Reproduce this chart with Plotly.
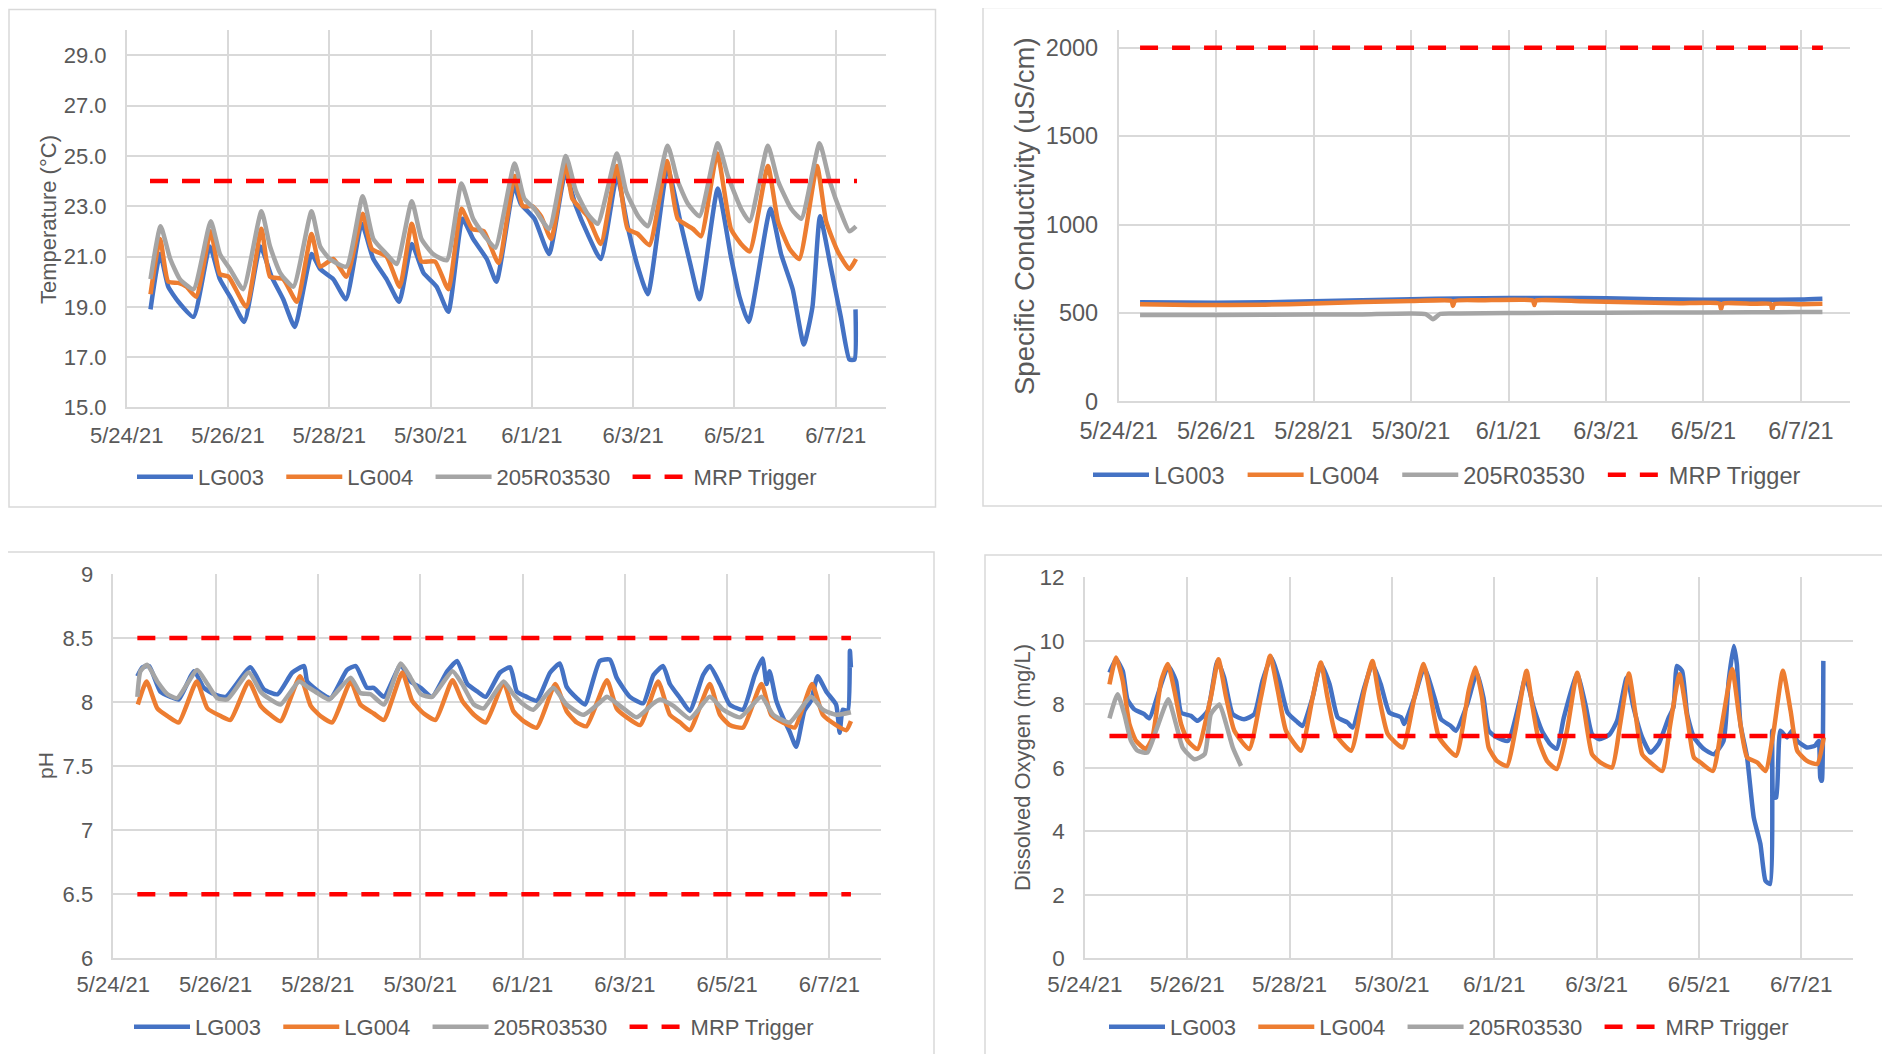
import pandas as pd
import plotly.graph_objects as go

# ---------------- data (x = days after 5/24/21 00:00) ----------------
START = pd.Timestamp("2021-05-24")
SERIES = ["LG003", "LG004", "205R03530"]
COLORS = {"LG003": "#4472C4", "LG004": "#ED7D31", "205R03530": "#A5A5A5"}
TRIGGER_COLOR = "#FF0000"
TICK_LABEL_FMT = "%-m/%-d/%y"

# Temperature (deg C)
temp_lg003_day = [0.47, 0.66, 0.82, 1.02, 1.32, 1.64, 1.84, 2.07, 2.32, 2.64,
                  2.86, 3.09, 3.32, 3.65, 3.82, 4.08, 4.33, 4.64, 4.87, 5.13,
                  5.38, 5.63, 5.86, 6.12, 6.35, 6.63, 6.84, 7.11, 7.30, 7.65,
                  7.78, 8.05, 8.34, 8.66, 8.87, 9.10, 9.36, 9.68, 9.89, 10.09,
                  10.29, 10.68, 10.94, 11.14, 11.31, 11.67, 11.93, 12.10, 12.28, 12.71,
                  12.92, 13.15, 13.37, 13.54, 13.69, 13.90, 14.10, 14.27, 14.37, 14.39]
temp_lg003 = [18.9, 21.1, 19.8, 19.2, 18.6, 21.4, 20.1, 19.3, 18.4, 21.4,
              20.2, 19.3, 18.2, 21.1, 20.5, 20.1, 19.3, 22.3, 20.9, 20.1,
              19.2, 21.5, 20.35, 19.8, 18.8, 22.5, 21.7, 20.9, 20.0, 23.8,
              23.1, 22.5, 21.1, 24.3, 23.0, 21.9, 20.9, 24.2, 22.2, 20.6,
              19.5, 24.5, 22.3, 20.6, 19.3, 23.7, 21.0, 19.4, 18.4, 22.9,
              21.1, 19.7, 17.5, 19.0, 22.6, 20.6, 18.6, 16.9, 16.9, 18.9]
temp_lg004_day = [0.47, 0.66, 0.82, 1.02, 1.18, 1.37, 1.66, 1.84, 2.01, 2.36,
                  2.66, 2.83, 3.09, 3.36, 3.65, 3.82, 4.08, 4.34, 4.66, 4.84,
                  5.13, 5.39, 5.63, 5.82, 6.09, 6.35, 6.61, 6.82, 7.05, 7.34,
                  7.66, 7.82, 8.01, 8.18, 8.38, 8.67, 8.80, 9.10, 9.36, 9.68,
                  9.89, 10.09, 10.32, 10.67, 10.88, 11.18, 11.34, 11.66, 11.93, 12.13,
                  12.30, 12.66, 12.86, 13.09, 13.28, 13.63, 13.81, 14.04, 14.27, 14.40]
temp_lg004 = [19.5, 21.7, 20.0, 19.95, 19.8, 19.4, 22.0, 20.3, 20.2, 19.0,
              22.1, 20.2, 20.1, 19.2, 21.9, 20.6, 20.9, 20.2, 22.7, 21.3,
              21.0, 19.8, 22.3, 20.8, 20.8, 19.7, 22.9, 22.1, 22.0, 20.75,
              24.2, 23.0, 23.0, 22.6, 21.7, 24.7, 23.3, 22.6, 21.5, 24.6,
              22.1, 21.9, 21.45, 24.8, 22.5, 22.1, 21.8, 25.1, 22.1, 21.5,
              21.2, 24.6, 22.4, 21.3, 20.9, 24.6, 22.4, 21.2, 20.5, 20.9]
temp_205_day = [0.47, 0.67, 0.86, 1.05, 1.32, 1.66, 1.84, 2.04, 2.30, 2.66,
                2.83, 3.03, 3.29, 3.65, 3.82, 4.01, 4.34, 4.66, 4.87, 5.13,
                5.33, 5.63, 5.82, 6.05, 6.32, 6.61, 6.84, 7.11, 7.28, 7.66,
                7.85, 8.05, 8.34, 8.67, 8.87, 9.10, 9.30, 9.68, 9.86, 10.10,
                10.29, 10.68, 10.88, 11.08, 11.31, 11.67, 11.87, 12.13, 12.30, 12.66,
                12.86, 13.12, 13.32, 13.68, 13.88, 14.11, 14.27, 14.40]
temp_205 = [20.1, 22.2, 20.9, 20.1, 19.7, 22.4, 21.1, 20.5, 19.7, 22.8,
            21.4, 20.35, 19.8, 22.8, 21.4, 20.9, 20.6, 23.4, 21.7, 21.1,
            20.7, 23.2, 21.7, 21.1, 20.85, 23.9, 22.5, 21.7, 21.35, 24.7,
            23.3, 22.9, 22.1, 25.0, 23.6, 22.7, 22.3, 25.1, 23.6, 22.6,
            22.2, 25.4, 24.0, 23.1, 22.6, 25.5, 24.2, 22.9, 22.4, 25.4,
            24.0, 22.9, 22.5, 25.5, 24.0, 22.7, 22.0, 22.2]
temp_trigger = [24.0]
temp_trigger_span = [0.46, 14.42]

# Specific conductivity (uS/cm)
sc_lg003_day = [0.44, 2.0, 3.0, 4.0, 5.0, 6.0, 7.0, 8.0, 9.0, 10.0, 11.0, 12.0, 13.0, 14.0, 14.44]
sc_lg003 = [560, 558, 560, 566, 572, 578, 582, 585, 585, 583, 578, 575, 575, 576, 580]
sc_lg004_day = [0.44, 1.5, 3.0, 4.0, 5.0, 6.0, 6.83, 6.86, 6.9, 7.5,
                8.5, 8.53, 8.56, 9.5, 10.5, 11.5, 12.33, 12.36, 12.4, 13.0,
                13.38, 13.41, 13.45, 14.0, 14.44]
sc_lg004 = [550, 545, 547, 553, 562, 567, 568, 540, 568, 572,
            570, 545, 570, 566, 560, 555, 553, 522, 553, 552,
            550, 520, 550, 550, 552]
sc_205_day = [0.44, 2.0, 4.0, 5.0, 6.3, 6.45, 6.6, 7.0, 8.0, 10.0, 12.0, 14.0, 14.44]
sc_205 = [488, 489, 491, 492, 494, 465, 495, 497, 500, 501, 503, 505, 505]
sc_trigger = [2000]
sc_trigger_span = [0.44, 14.45]

# pH
ph_lg003_day = [0.47, 0.57, 0.70, 0.92, 1.12, 1.28, 1.58, 1.77, 1.97, 2.20,
                2.68, 2.94, 3.21, 3.50, 3.73, 3.79, 4.05, 4.25, 4.57, 4.74,
                4.96, 5.09, 5.29, 5.62, 5.81, 6.01, 6.23, 6.53, 6.72, 6.92,
                7.12, 7.28, 7.56, 7.76, 7.89, 8.08, 8.28, 8.54, 8.73, 8.86,
                9.06, 9.22, 9.51, 9.71, 9.84, 10.10, 10.36, 10.56, 10.75, 10.88,
                11.08, 11.27, 11.53, 11.66, 11.86, 12.05, 12.31, 12.54, 12.69, 12.77,
                12.83, 12.96, 13.09, 13.22, 13.35, 13.51, 13.64, 13.77, 13.94, 14.13,
                14.20, 14.26, 14.36, 14.40, 14.42]
ph_lg003 = [8.20, 8.27, 8.28, 8.08, 8.04, 8.02, 8.24, 8.11, 8.06, 8.04,
            8.27, 8.10, 8.06, 8.23, 8.28, 8.16, 8.07, 8.03, 8.25, 8.28,
            8.11, 8.11, 8.04, 8.29, 8.16, 8.11, 8.04, 8.24, 8.32, 8.14,
            8.08, 8.04, 8.23, 8.27, 8.08, 8.04, 8.01, 8.23, 8.30, 8.12,
            8.03, 7.98, 8.32, 8.33, 8.19, 8.04, 7.99, 8.21, 8.28, 8.14,
            8.03, 7.93, 8.21, 8.28, 8.14, 7.98, 7.94, 8.21, 8.34, 8.14,
            8.24, 8.01, 7.88, 7.77, 7.65, 7.93, 8.01, 8.20, 8.08, 7.98,
            7.76, 7.94, 7.93, 8.40, 8.27]
ph_lg004_day = [0.48, 0.65, 0.86, 1.06, 1.28, 1.63, 1.84, 2.10, 2.29, 2.65,
                2.88, 3.07, 3.27, 3.65, 3.86, 4.05, 4.28, 4.64, 4.83, 5.09,
                5.29, 5.65, 5.84, 6.07, 6.30, 6.63, 6.82, 7.05, 7.28, 7.63,
                7.82, 8.02, 8.28, 8.64, 8.86, 9.06, 9.25, 9.65, 9.84, 10.04,
                10.30, 10.65, 10.88, 11.08, 11.27, 11.66, 11.86, 12.05, 12.31, 12.67,
                12.86, 13.09, 13.32, 13.66, 13.87, 14.13, 14.33, 14.42]
ph_lg004 = [7.98, 8.16, 7.95, 7.89, 7.84, 8.16, 7.95, 7.89, 7.86, 8.16,
            7.97, 7.90, 7.85, 8.20, 7.97, 7.89, 7.84, 8.16, 7.98, 7.91,
            7.86, 8.23, 8.01, 7.91, 7.86, 8.17, 8.01, 7.90, 7.84, 8.15,
            7.93, 7.85, 7.80, 8.14, 7.93, 7.84, 7.81, 8.17, 7.95, 7.88,
            7.82, 8.16, 7.90, 7.84, 7.78, 8.14, 7.90, 7.82, 7.80, 8.14,
            7.90, 7.84, 7.80, 8.14, 7.90, 7.82, 7.78, 7.85]
ph_205_day = [0.47, 0.53, 0.66, 0.86, 1.06, 1.25, 1.64, 1.84, 2.03, 2.23,
              2.65, 2.88, 3.07, 3.27, 3.63, 3.79, 3.99, 4.22, 4.64, 4.83,
              5.03, 5.29, 5.62, 5.81, 6.01, 6.23, 6.63, 6.82, 7.05, 7.24,
              7.63, 7.82, 8.02, 8.21, 8.60, 8.86, 9.19, 9.58, 9.65, 9.97,
              10.23, 10.56, 10.69, 10.95, 11.27, 11.66, 11.92, 12.25, 12.67, 12.90,
              13.22, 13.64, 13.87, 14.13, 14.42]
ph_205 = [8.04, 8.24, 8.29, 8.16, 8.06, 8.03, 8.25, 8.14, 8.03, 8.02,
          8.23, 8.08, 8.02, 7.98, 8.16, 8.12, 8.07, 8.02, 8.19, 8.07,
          8.06, 7.98, 8.30, 8.19, 8.06, 8.04, 8.24, 8.14, 7.98, 7.95,
          8.16, 8.06, 7.98, 7.94, 8.11, 7.98, 7.90, 8.02, 8.04, 7.95,
          7.88, 7.99, 8.02, 7.97, 7.87, 8.04, 7.94, 7.88, 8.04, 7.90,
          7.84, 8.04, 7.94, 7.90, 7.92]
ph_trigger = [8.5, 6.5]
ph_trigger_span = [0.47, 14.42]

# Dissolved oxygen (mg/L)
do_lg003_day = [0.48, 0.61, 0.74, 0.83, 0.96, 1.16, 1.26, 1.45, 1.63, 1.78,
                1.88, 2.07, 2.20, 2.40, 2.59, 2.72, 2.89, 3.11, 3.31, 3.47,
                3.64, 3.80, 3.96, 4.16, 4.25, 4.45, 4.61, 4.78, 4.94, 5.13,
                5.23, 5.46, 5.62, 5.78, 5.95, 6.18, 6.24, 6.44, 6.63, 6.83,
                6.96, 7.15, 7.25, 7.47, 7.66, 7.79, 7.89, 8.05, 8.27, 8.48,
                8.61, 8.77, 8.93, 9.09, 9.22, 9.36, 9.62, 9.78, 9.91, 10.05,
                10.25, 10.40, 10.59, 10.72, 10.89, 11.05, 11.21, 11.41, 11.50, 11.57,
                11.67, 11.77, 11.90, 12.09, 12.29, 12.48, 12.58, 12.68, 12.74, 12.81,
                12.94, 13.07, 13.20, 13.30, 13.39, 13.43, 13.46, 13.51, 13.59, 13.72,
                13.82, 13.92, 14.11, 14.27, 14.34, 14.37, 14.40, 14.43]
do_lg003 = [9.0, 9.42, 9.05, 8.16, 7.85, 7.69, 7.56, 8.43, 9.21, 8.74,
            7.74, 7.64, 7.48, 7.8, 9.37, 8.85, 7.69, 7.53, 7.69, 8.74,
            9.48, 8.74, 7.74, 7.43, 7.32, 8.22, 9.27, 8.64, 7.59, 7.43,
            7.27, 8.53, 9.27, 8.64, 7.74, 7.59, 7.38, 8.22, 9.16, 8.22,
            7.53, 7.32, 7.17, 8.0, 9.0, 8.2, 7.17, 6.96, 6.85, 8.0,
            8.85, 7.9, 7.17, 6.75, 6.6, 7.59, 8.95, 8.0, 7.06, 6.9,
            7.05, 7.48, 8.85, 7.9, 6.96, 6.48, 6.75, 7.59, 7.9, 9.21,
            9.05, 7.69, 6.96, 6.6, 6.43, 6.85, 8.74, 9.84, 9.27, 7.38,
            6.33, 4.44, 3.6, 2.44, 2.34, 7.17, 5.07, 5.07, 7.17, 6.96,
            7.17, 6.85, 6.64, 6.7, 6.85, 5.7, 5.59, 9.37]
do_lg004_day = [0.48, 0.61, 0.74, 0.87, 1.00, 1.19, 1.32, 1.49, 1.62, 1.75,
                1.88, 2.01, 2.20, 2.46, 2.61, 2.76, 2.92, 3.21, 3.44, 3.62,
                3.77, 3.93, 4.22, 4.45, 4.61, 4.74, 4.90, 5.20, 5.46, 5.62,
                5.75, 5.92, 6.21, 6.44, 6.62, 6.76, 6.92, 7.25, 7.50, 7.63,
                7.76, 7.89, 8.05, 8.25, 8.41, 8.63, 8.74, 8.87, 9.03, 9.22,
                9.42, 9.62, 9.75, 9.91, 10.07, 10.30, 10.46, 10.63, 10.76, 10.89,
                11.05, 11.28, 11.44, 11.62, 11.77, 11.90, 12.03, 12.27, 12.45, 12.65,
                12.78, 12.94, 13.14, 13.30, 13.46, 13.64, 13.79, 13.92, 14.11, 14.31,
                14.44]
do_lg004 = [8.63, 9.48, 8.74, 7.38, 6.85, 6.59, 6.96, 8.74, 9.27, 8.43,
            7.38, 6.85, 6.59, 8.22, 9.42, 8.22, 7.17, 6.59, 8.22, 9.53,
            8.43, 7.17, 6.54, 8.22, 9.32, 8.22, 7.06, 6.54, 8.43, 9.37,
            8.22, 7.06, 6.64, 8.22, 9.27, 8.22, 6.96, 6.38, 8.43, 9.16,
            8.22, 6.64, 6.22, 6.06, 7.17, 9.06, 8.0, 6.85, 6.22, 5.96,
            7.17, 9.0, 7.9, 6.43, 6.17, 6.01, 7.38, 8.97, 7.69, 6.43,
            6.17, 5.9, 7.38, 8.95, 7.59, 6.33, 6.17, 5.9, 7.38, 9.11,
            7.69, 6.33, 6.17, 5.9, 7.17, 9.06, 7.8, 6.54, 6.22, 6.12,
            6.96]
do_205_day = [0.48, 0.64, 0.77, 0.90, 1.03, 1.22, 1.39, 1.63, 1.78, 1.91,
              2.14, 2.34, 2.46, 2.63, 2.76, 2.89, 3.05]
do_205 = [7.56, 8.32, 7.69, 6.85, 6.54, 6.48, 7.17, 8.16, 7.38, 6.64,
          6.27, 6.43, 7.69, 8.0, 7.38, 6.64, 6.06]
do_trigger = [7.0]
do_trigger_span = [0.48, 14.46]

# ---------------- figure ----------------
OFF = 8                      # page body margin in the browser
W, H = 1890 - OFF, 1054 - OFF
FONT = "Liberation Sans, Arial, sans-serif"
TXT = "#595959"
GRID = "#D9D9D9"
NB = "\u00a0"


def px(x):
    return (x - OFF) / W


def py(y):
    return 1 - (y - OFF) / H


def to_time(days):
    return [START + pd.Timedelta(days=d) for d in days]


panels = [
    dict(key="", legend="legend",
         series=[(temp_lg003_day, temp_lg003), (temp_lg004_day, temp_lg004), (temp_205_day, temp_205)],
         trig=temp_trigger, span=temp_trigger_span,
         dom_x=(126.7, 886.4), dom_y=(30.2, 407.4),
         yr=[15, 30], y0=15, dy=2, yfmt=".1f",
         title="Temperature (°C)", title_pos=(49, 220), title_size=22,
         tick_size=22, xstand=7, leg_pos=(477, 477), leg_size=22),
    dict(key="2", legend="legend2",
         series=[(sc_lg003_day, sc_lg003), (sc_lg004_day, sc_lg004), (sc_205_day, sc_205)],
         trig=sc_trigger, span=sc_trigger_span,
         dom_x=(1118.6, 1849.7), dom_y=(30.0, 401.4),
         yr=[0, 2100], y0=0, dy=500, yfmt="",
         title="Specific Conductivity (uS/cm)", title_pos=(1024, 216), title_size=27.5,
         tick_size=23.5, xstand=8, leg_pos=(1447, 475), leg_size=23.5),
    dict(key="3", legend="legend3",
         series=[(ph_lg003_day, ph_lg003), (ph_lg004_day, ph_lg004), (ph_205_day, ph_205)],
         trig=ph_trigger, span=ph_trigger_span,
         dom_x=(113.3, 880.6), dom_y=(573.8, 958.3),
         yr=[6, 9], y0=6, dy=0.5, yfmt="",
         title="pH", title_pos=(45, 766), title_size=21,
         tick_size=22, xstand=6, leg_pos=(474, 1027), leg_size=22),
    dict(key="4", legend="legend4",
         series=[(do_lg003_day, do_lg003), (do_lg004_day, do_lg004), (do_205_day, do_205)],
         trig=do_trigger, span=do_trigger_span,
         dom_x=(1084.9, 1852.5), dom_y=(577.4, 958.3),
         yr=[0, 12], y0=0, dy=2, yfmt="",
         title="Dissolved Oxygen (mg/L)", title_pos=(1022, 768), title_size=22,
         tick_size=22.5, xstand=5, leg_pos=(1449, 1027), leg_size=22),
]

fig = go.Figure()
layout = dict(
    width=W, height=H, margin=dict(l=0, r=0, t=0, b=0, autoexpand=False),
    paper_bgcolor="white", plot_bgcolor="white",
    font=dict(family=FONT, color=TXT),
    shapes=[], annotations=[],
)

PAD = NB * 2
for p in panels:
    k = p["key"]
    xa, ya = "x" + k, "y" + k
    for name, (d, v) in zip(SERIES, p["series"]):
        fig.add_trace(go.Scatter(
            x=to_time(d), y=v, mode="lines", name=name + PAD,
            line=dict(color=COLORS[name], width=4.5, shape="spline", smoothing=0.5),
            xaxis=xa, yaxis=ya, legend=p["legend"], hoverinfo="skip"))
    tx, ty = [], []
    for val in p["trig"]:
        tx += to_time(p["span"]) + [None]
        ty += [val, val, None]
    fig.add_trace(go.Scatter(
        x=tx, y=ty, mode="lines", name="MRP Trigger", connectgaps=False,
        line=dict(color=TRIGGER_COLOR, width=4.5, dash="18px,14px"),
        xaxis=xa, yaxis=ya, legend=p["legend"], hoverinfo="skip"))

    layout["xaxis" + k] = dict(
        domain=[px(p["dom_x"][0]), px(p["dom_x"][1])], anchor=ya, type="date",
        range=[START, START + pd.Timedelta(days=15)],
        tick0=START, dtick=2 * 86400000, tickformat=TICK_LABEL_FMT,
        showgrid=True, gridcolor=GRID, gridwidth=1.5,
        showline=True, linecolor=GRID, linewidth=1.5, zeroline=False,
        ticks="", ticklabelstandoff=p["xstand"], automargin=False,
        tickfont=dict(family=FONT, size=p["tick_size"], color=TXT))
    layout["yaxis" + k] = dict(
        domain=[py(p["dom_y"][1]), py(p["dom_y"][0])], anchor=xa,
        range=p["yr"], tick0=p["y0"], dtick=p["dy"], tickformat=p["yfmt"],
        showgrid=True, gridcolor=GRID, gridwidth=1.5,
        showline=True, linecolor=GRID, linewidth=1.5, zeroline=False,
        ticks="", ticklabelstandoff=14, automargin=False,
        tickfont=dict(family=FONT, size=p["tick_size"], color=TXT))
    layout[p["legend"]] = dict(
        orientation="h", x=px(p["leg_pos"][0]), xanchor="center",
        y=py(p["leg_pos"][1]), yanchor="middle", itemwidth=56,
        bgcolor="rgba(0,0,0,0)", font=dict(family=FONT, size=p["leg_size"], color=TXT),
        traceorder="normal")
    layout["annotations"].append(dict(
        text=p["title"], xref="paper", yref="paper",
        x=px(p["title_pos"][0]), y=py(p["title_pos"][1]),
        xanchor="center", yanchor="middle", textangle=-90, showarrow=False,
        font=dict(family=FONT, size=p["title_size"], color=TXT)))

# panel frames
frames = [(9, 9.5, 935.5, 507), (983, 7.5, 1895, 506), (7, 552, 934, 1060), (985, 555, 1895, 1060)]
for x0, y0, x1, y1 in frames:
    layout["shapes"].append(dict(
        type="rect", xref="paper", yref="paper",
        x0=px(x0), x1=px(x1), y0=py(y1), y1=py(y0),
        line=dict(color=GRID, width=1.5), fillcolor="rgba(0,0,0,0)", layer="below"))

fig.update_layout(**layout)
fig.write_html("out.html")
